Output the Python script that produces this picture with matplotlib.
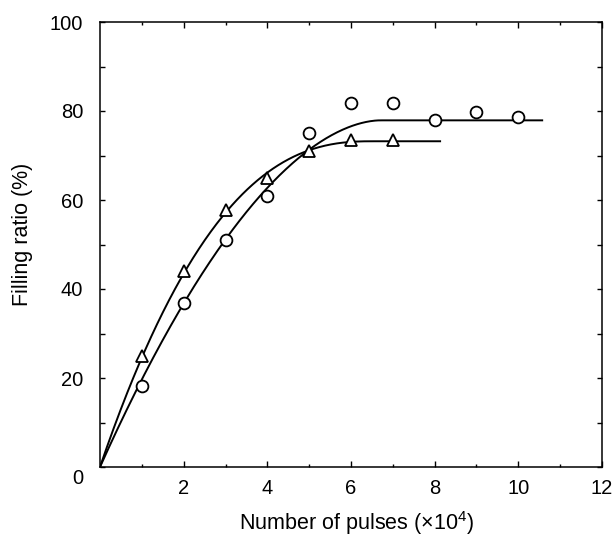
import numpy as np
import matplotlib.pyplot as plt
from matplotlib.transforms import ScaledTranslation

plt.rcParams["font.family"] = ["Liberation Sans", "DejaVu Sans"]
plt.rcParams["mathtext.fontset"] = "custom"
plt.rcParams["mathtext.rm"] = "Liberation Sans"

# data (x in units of 1e4 pulses)
pulses_circle = [1, 2, 3, 4, 5, 6, 7, 8, 9, 10]
ratio_circle = [18.2, 36.8, 50.9, 61.0, 75.0, 81.8, 81.8, 77.9, 79.8, 78.6]

pulses_triangle = [1, 2, 3, 4, 5, 6, 7]
ratio_triangle = [25.0, 44.0, 57.8, 65.0, 71.0, 73.5, 73.5]

# saturation fits drawn through each series
fit_circle = dict(plateau=77.9, x_sat=6.7, power=1.8, x_end=10.57)
fit_triangle = dict(plateau=73.2, x_sat=6.5, power=2.45, x_end=8.13)

y_ticks = [0, 20, 40, 60, 80, 100]
x_ticks = [2, 4, 6, 8, 10, 12]


def saturation(fit):
    x = np.linspace(0, fit["x_end"], 400)
    u = np.clip(1 - x / fit["x_sat"], 0, None)
    return x, fit["plateau"] * (1 - u ** fit["power"])


fig = plt.figure(figsize=(6.14, 5.38), dpi=100)
ax = fig.add_axes([100 / 614, 71 / 538, 502 / 614, 445 / 538])

for fit in (fit_circle, fit_triangle):
    xc, yc = saturation(fit)
    ax.plot(xc, yc, color="black", lw=1.4, zorder=2)

ax.plot(pulses_circle, ratio_circle, "o", ms=8.5, mfc="white", mec="black",
        mew=1.3, zorder=3, clip_on=False)
ax.plot(pulses_triangle, ratio_triangle, "^", ms=8.5, mfc="white", mec="black",
        mew=1.3, zorder=3, clip_on=False)

ax.set_xlim(0, 12)
ax.set_ylim(0, 100)
ax.set_xticks(x_ticks)
ax.set_xticks(np.arange(1, 12, 2), minor=True)
ax.set_yticks(y_ticks)
ax.set_yticks(np.arange(10, 100, 20), minor=True)

ax.tick_params(which="both", direction="in", top=True, right=True,
               width=1.0, labelsize=14.5)
ax.tick_params(axis="x", which="major", length=4.5, pad=8.6)
ax.tick_params(axis="x", which="minor", length=2.2)
ax.tick_params(axis="y", which="both", length=3.6, pad=12)

for s in ax.spines.values():
    s.set_linewidth(1.1)

# the "0" on the y axis sits a little lower than the axis line
zero_label = ax.get_yticklabels()[0]
zero_label.set_transform(zero_label.get_transform()
                         + ScaledTranslation(0, -9 / 100, fig.dpi_scale_trans))

ax.set_ylabel("Filling ratio (%)", fontsize=15.5)
ax.yaxis.set_label_coords(-0.133, 0.522)
ax.set_xlabel("Number of pulses (×10$^4$)", fontsize=15.5, va="baseline")
ax.xaxis.set_label_coords(0.51, -0.142)

fig.savefig("out.png", dpi=100)
